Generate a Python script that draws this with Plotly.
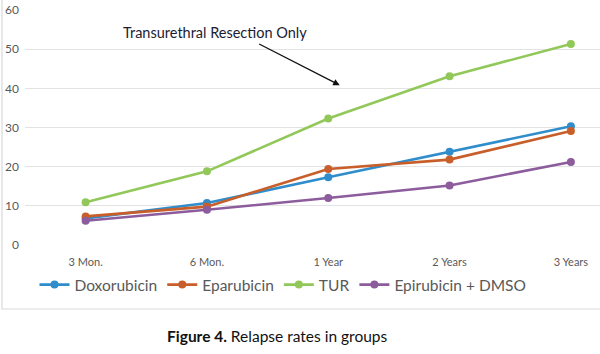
import plotly.graph_objects as go

categories = ["3 Mon.", "6 Mon.", "1 Year", "2 Years", "3 Years"]
doxorubicin = [6.8, 10.7, 17.3, 23.8, 30.3]
eparubicin = [7.3, 9.8, 19.4, 21.8, 29.1]
tur = [10.9, 18.8, 32.3, 43.1, 51.3]
epirubicin_dmso = [6.2, 9.0, 12.0, 15.2, 21.2]

series = [
    ("Doxorubicin", doxorubicin, "#2F8DCB"),
    ("Eparubicin", eparubicin, "#C85F2A"),
    ("TUR", tur, "#92C85A"),
    ("Epirubicin + DMSO", epirubicin_dmso, "#8C5C9C"),
]

fig = go.Figure()
for name, vals, col in series:
    fig.add_trace(go.Scatter(
        x=categories, y=vals, name=name, mode="lines+markers",
        line=dict(color=col, width=2.6),
        marker=dict(color=col, size=8),
    ))

W, H = 600, 354
L, R, T, B = 25, 0, 10, 109
pw, ph = W - L - R, H - T - B

def px_x(p):
    return (p - L) / pw

def px_y(p):
    return (H - B - p) / ph

fig.add_shape(type="rect", xref="paper", yref="paper",
              x0=px_x(2), x1=px_x(610), y0=px_y(309), y1=px_y(-5),
              line=dict(color="#D9D9D9", width=1.2), fillcolor="rgba(0,0,0,0)",
              layer="below")

fig.add_annotation(x=px_x(215), y=px_y(32), xref="paper", yref="paper",
                   xanchor="center", yanchor="middle",
                   text="Transurethral Resection Only", showarrow=False,
                   font=dict(family="Lato", size=14.5, color="#1B1B33"))

fig.add_annotation(x=2.094, y=40.8, xref="x", yref="y", text="",
                   showarrow=True, ax=-82, ay=-42, arrowhead=2,
                   arrowsize=1, arrowwidth=1.3, arrowcolor="#111111")

fig.add_annotation(x=px_x(277), xref="paper", y=px_y(336), yref="paper",
                   xanchor="center", yanchor="middle",
                   text="<b>Figure 4.</b> Relapse rates in groups",
                   showarrow=False,
                   font=dict(family="Lato", size=15.5, color="#111111"))

fig.update_layout(
    width=W, height=H,
    margin=dict(l=L, r=R, t=T, b=B, autoexpand=False),
    paper_bgcolor="white", plot_bgcolor="white",
    font=dict(family="Lato", color="#595959"),
    showlegend=True,
    legend=dict(orientation="h", x=px_x(283), xanchor="center",
                y=px_y(285), yanchor="middle",
                font=dict(family="Lato", size=15.5, color="#595959"),
                itemwidth=30, tracegroupgap=0),
    xaxis=dict(type="category", range=[-0.5, 4.24], showgrid=False,
               showline=False, zeroline=False, ticks="",
               tickfont=dict(size=11, color="#595959"),
               ticklabelstandoff=9),
    yaxis=dict(range=[0, 60], dtick=10, showgrid=True, gridcolor="#E3E3E3",
               gridwidth=1, zeroline=False, showline=False, ticks="",
               tickfont=dict(size=12, color="#595959"),
               ticklabelstandoff=5),
)

fig.write_html("out.html")
